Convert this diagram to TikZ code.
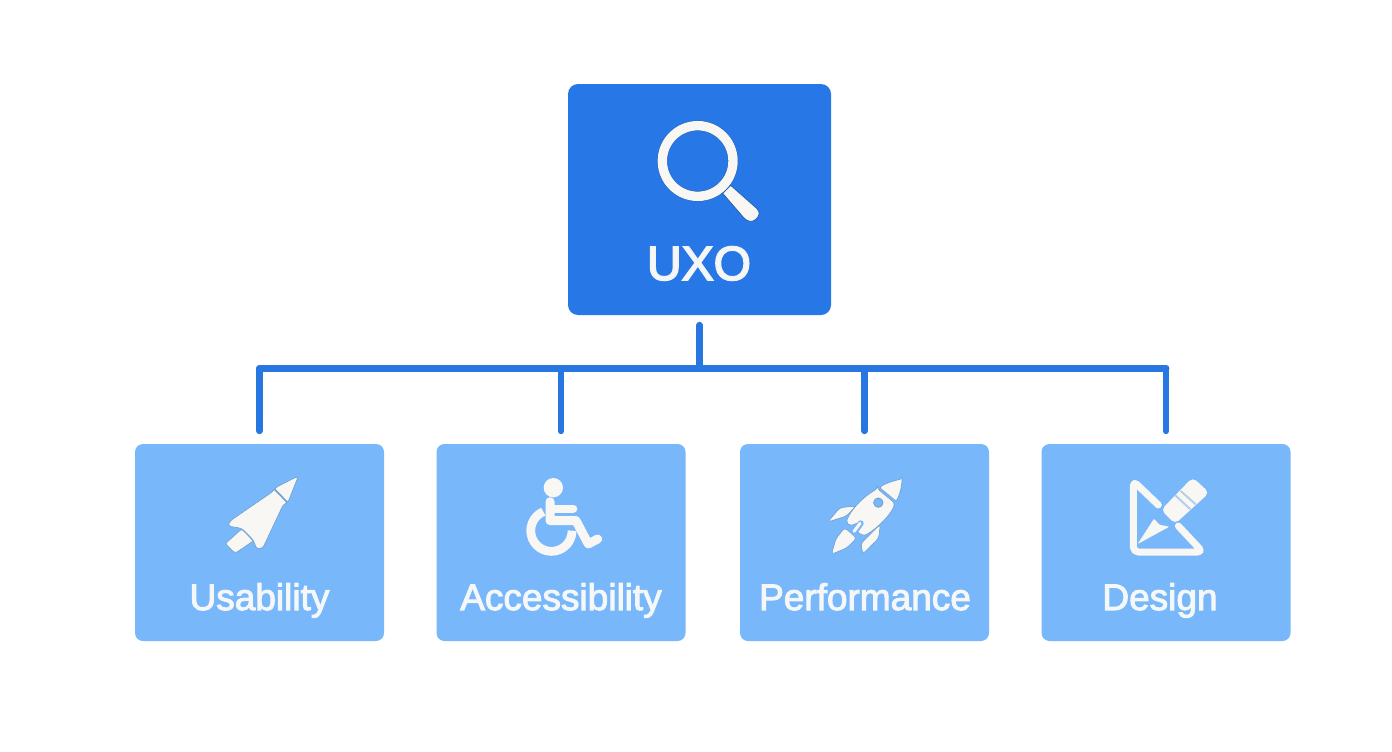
\documentclass[tikz,border=0pt]{standalone}
\usepackage{fontspec}
\setmainfont{Liberation Sans}
\definecolor{dark}{HTML}{2778E6}
\definecolor{light}{HTML}{78B7FA}
\definecolor{conn}{HTML}{2877E0}
\definecolor{ink}{HTML}{F8F7F4}
\definecolor{rimd}{HTML}{1E5AA8}
\definecolor{riml}{HTML}{6C9FD0}
\newcommand{\stroketxt}[2]{\special{pdf:code #2 w #1 RG 2 Tr}}
\newcommand{\strokeend}{\special{pdf:code 0 Tr}}
\tikzset{
  parentbox/.style={fill=dark,rounded corners=10pt,minimum width=263pt,minimum height=231pt,inner sep=0pt},
  childbox/.style={fill=light,rounded corners=8pt,minimum width=249pt,minimum height=197pt,inner sep=0pt},
  linkline/.style={draw=conn,line width=6.8pt,line cap=round,line join=round},
  biglabel/.style={text=ink,font=\fontsize{48}{48}\selectfont,inner sep=0pt,anchor=base},
  smalllabel/.style={text=ink,font=\fontsize{37}{38}\selectfont,inner sep=0pt,anchor=base},
  iconfill/.style={fill=ink,draw=riml,line width=0.6pt,line join=round},
  iconline/.style={draw=ink,line cap=round,line join=round},
  gapline/.style={draw=riml,line width=1.6pt},
}
\begin{document}
\begin{tikzpicture}[x=1pt,y=-1pt]
\useasboundingbox (0,0) rectangle (1392,752);
\fill[white] (0,0) rectangle (1392,752);
\node[parentbox] (uxo) at (699.5,199.5) {};
\node[childbox] (usab) at (259.5,542.5) {};
\node[childbox] (acc) at (561,542.5) {};
\node[childbox] (perf) at (864.5,542.5) {};
\node[childbox] (des) at (1166,542.5) {};
\coordinate (bus) at (699.5,368.5);
\draw[linkline,shorten <=10pt] (uxo.south) -- (bus);
\draw[linkline] (usab.north |- bus) -- (des.north |- bus);
\draw[linkline,shorten >=13pt] (usab.north |- bus) -- (usab.north);
\draw[linkline,shorten >=13pt] (acc.north |- bus) -- (acc.north);
\draw[linkline,shorten >=13pt] (perf.north |- bus) -- (perf.north);
\draw[linkline,shorten >=13pt] (des.north |- bus) -- (des.north);
% magnifier
\begin{scope}[shift={(560,80)},scale=1/3]
\path[fill=ink,draw=rimd,line width=0.7pt] (488,340) -- (512,316) -- (590,385) .. controls (604,398) and (596,412) .. (585,420) .. controls (575,428) and (562,424) .. (552,414) -- cycle;
\draw[draw=rimd,line width=10.1pt] (413,243) circle[radius=106];
\draw[draw=ink,line width=9.4pt] (413,243) circle[radius=106];
\end{scope}
\node[biglabel] (uxot) at (699,280) {\stroketxt{0.95 0.96 0.97}{1.6}UXO\strokeend};
\node[smalllabel] (usabt) at (259.5,610) {\stroketxt{0.95 0.97 0.98}{1.0}Usability\strokeend};
\node[smalllabel] (acct) at (561,610) {\stroketxt{0.95 0.97 0.98}{1.0}Accessibility\strokeend};
\node[smalllabel] (perft) at (865,610) {\stroketxt{0.95 0.97 0.98}{1.0}Performance\strokeend};
\node[smalllabel] (dest) at (1160,610) {\stroketxt{0.95 0.97 0.98}{1.0}Design\strokeend};
% usability icon
\begin{scope}[shift={(200,465)},scale=1/3]
\path[iconfill,rounded corners=3pt] (295,33) -- (264,112) -- (250,118) -- (188,250) -- (170,252) -- (160,225) -- (125,190) -- (84,183) -- (90,168) -- (218,80) -- (226,68) -- cycle;
\path[iconfill,rounded corners=2pt] (125,192) -- (160,228) -- (105,265) -- (76,236) -- cycle;
\draw[gapline] (223,72) -- (262,112);
\end{scope}
% wheelchair
\begin{scope}[shift={(480,460)},scale=1/3]
\fill[ink] (220,83) circle[radius=29];
\draw[iconline,line width=9pt] (210,125) -- (210,182) -- (288,182) -- (325,252) -- (353,237);
\draw[iconline,line width=8pt] (210,146) -- (280,146);
\draw[draw=ink,line width=8.8pt] (190,155) arc[start angle=-113,end angle=-360,radius=62];
\end{scope}
% rocket
\begin{scope}[shift={(800,460)},scale=1/3]
\path[iconfill,rounded corners=2pt] (306,57) .. controls (305,85) and (298,105) .. (289,124) -- (238,82) .. controls (258,70) and (280,62) .. (306,57) -- cycle;
\path[iconfill,rounded corners=3pt] (232,86) -- (285,130) .. controls (272,165) and (232,205) .. (192,228) -- (168,214) -- (180,186) -- (150,198) -- (138,186) .. controls (158,140) and (195,108) .. (232,86) -- cycle;
\path[iconfill,rounded corners=3pt] (83,186) -- (120,143) -- (167,138) -- (140,168) -- cycle;
\path[iconfill,rounded corners=3pt] (241,193) -- (236,235) -- (188,282) -- (183,250) -- (205,228) -- cycle;
\path[iconfill,rounded corners=3pt] (134,203) -- (170,234) -- (140,264) -- (94,283) -- (108,236) -- cycle;
\path[fill=light,draw=riml,line width=0.8pt] (235,128) circle[radius=14];
\draw[draw=light,line width=6pt,line cap=round] (182,190) -- (162,218);
\draw[draw=ink,line width=3pt,line cap=round] (180,190) -- (162,214);
\end{scope}
% design
\begin{scope}[shift={(1100,460)},scale=1/3]
\draw[iconline,line width=7pt,rounded corners=5pt] (175,135) -- (100,63) -- (100,276) -- (308,276) -- (235,198);
\path[fill=ink,rounded corners=5pt] (278,52) -- (328,98) -- (225,192) -- (183,150) -- cycle;
\draw[draw=white!50!riml,line width=2pt] (226,106) -- (271,148);
\draw[draw=white!50!riml,line width=2pt] (242,93) -- (287,133);
\path[fill=ink,rounded corners=1pt] (162,176) -- (178,194) -- (208,200) -- (113,252) -- cycle;
\end{scope}
\end{tikzpicture}
\end{document}
